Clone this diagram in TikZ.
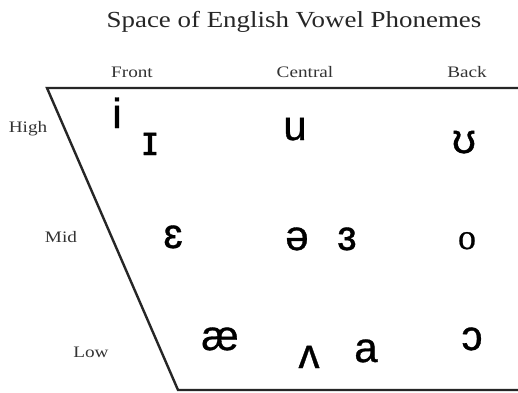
\documentclass[tikz,border=0pt]{standalone}
\usepackage{fontspec}
\setmainfont{Liberation Serif}
\newfontfamily\ipafont[FakeBold=0.8]{Liberation Sans}
\newfontfamily\ofont[FakeBold=0.6]{Liberation Serif}
\begin{document}
\begin{tikzpicture}[x=1pt,y=1pt,
  lbl/.style={font=\fontsize{16}{18}\selectfont, inner sep=0pt, anchor=base, text=black!80, xscale=1.2},
  vow/.style={font=\ipafont\fontsize{42}{46}\selectfont, inner sep=0pt, anchor=base},
  edge/.style={line width=2.4pt, black!85}]
\useasboundingbox (0,0) rectangle (518,392);
\fill[white] (0,0) rectangle (518,392);
% title
\node[font=\fontsize{23}{26}\selectfont, inner sep=0pt, anchor=base, text=black!85, xscale=1.17] (title) at (294,365) {Space of English Vowel Phonemes};
% column labels
\node[lbl] (front) at (132,315) {Front};
\node[lbl] (central) at (305,315) {Central};
\node[lbl] (back) at (467,315) {Back};
% row labels
\node[lbl] (high) at (28,260) {High};
\node[lbl] (mid) at (61,150) {Mid};
\node[lbl] (low) at (91,35) {Low};
% trapezoid
\coordinate (tl) at (47,304);
\coordinate (tr) at (518,304);
\coordinate (bl) at (178,2);
\coordinate (br) at (518,2);
\draw[edge, line join=miter] (tr) -- (tl) -- (bl) -- (br);
% vowels
\node[vow] (i) at (117,264) {i};
\node[vow] (ih) at (150,237) {ɪ};
\node[vow] (u) at (295,252) {u};
\node[vow] (uh) at (464,239) {ʊ};
\node[vow] (eh) at (173,144) {ɛ};
\node[vow] (schwa) at (297,142) {ə};
\node[vow] (er) at (347,142) {ɜ};
\node[vow, font=\ofont\fontsize{36}{40}\selectfont] (o) at (467,143) {o};
\node[vow] (ae) at (220,42) {æ};
\node[vow] (uhv) at (309,24) {ʌ};
\node[vow] (a) at (366,30) {a};
\node[vow] (aw) at (472,42) {ɔ};
\end{tikzpicture}
\end{document}
